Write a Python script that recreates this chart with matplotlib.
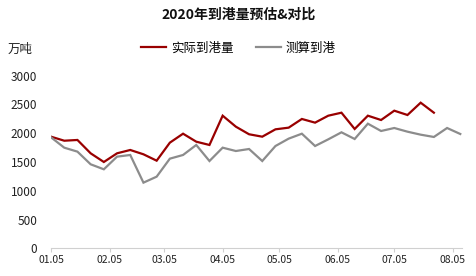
import matplotlib
matplotlib.use("Agg")
import matplotlib.pyplot as plt
import pandas as pd

plt.rcParams['font.family'] = ['Noto Sans CJK SC', 'DejaVu Sans']

dates = ['2020-01-05', '2020-01-12', '2020-01-19', '2020-01-26', '2020-02-02', '2020-02-09',
         '2020-02-16', '2020-02-23', '2020-03-01', '2020-03-08', '2020-03-15', '2020-03-22',
         '2020-03-29', '2020-04-05', '2020-04-12', '2020-04-19', '2020-04-26', '2020-05-03',
         '2020-05-10', '2020-05-17', '2020-05-24', '2020-05-31', '2020-06-07', '2020-06-14',
         '2020-06-21', '2020-06-28', '2020-07-05', '2020-07-12', '2020-07-19', '2020-07-26',
         '2020-08-02', '2020-08-09']
actual = [1940, 1870, 1883, 1651, 1500, 1651, 1709, 1634, 1523, 1836, 1992, 1853,
          1796, 2305, 2114, 1982, 1940, 2068, 2097, 2248, 2184, 2305, 2357, 2074,
          2305, 2230, 2392, 2317, 2531, 2357]
estimate = [1929, 1749, 1680, 1460, 1373, 1593, 1622, 1141, 1245, 1558, 1622, 1796,
            1517, 1749, 1691, 1726, 1517, 1778, 1906, 1992, 1778, 1894, 2016, 1900,
            2166, 2039, 2091, 2027, 1975, 1935, 2091, 1987]
tick_dates = ['2020-01-05', '2020-02-05', '2020-03-05', '2020-04-05', '2020-05-05',
              '2020-06-05', '2020-07-05', '2020-08-05']
tick_labels = ['01.05', '02.05', '03.05', '04.05', '05.05', '06.05', '07.05', '08.05']
yticks = [0, 500, 1000, 1500, 2000, 2500, 3000]

title = '2020年到港量预估&对比'
series_names = ['实际到港量', '测算到港']
unit = '万吨'

d = pd.to_datetime(dates)
fig = plt.figure(figsize=(4.77, 2.76), dpi=100)
ax = fig.add_axes([0.107, 0.1004, 0.8619, 0.6253])

ax.plot(d[:len(actual)], actual, color='#990000', lw=1.6, label=series_names[0], solid_joinstyle='miter')
ax.plot(d[:len(estimate)], estimate, color='#8c8c8c', lw=1.6, label=series_names[1], solid_joinstyle='miter')

ax.set_xlim(pd.Timestamp('2020-01-05'), pd.Timestamp('2020-08-10'))
ax.set_ylim(0, 3000)
ax.set_xticks(pd.to_datetime(tick_dates))
ax.set_xticklabels(tick_labels, fontsize=7.5, color='#222222')
ax.set_yticks(yticks)
ax.set_yticklabels([str(v) for v in yticks], fontsize=8.5, color='#222222')

for s in ['top', 'right', 'left']:
    ax.spines[s].set_visible(False)
ax.spines['bottom'].set_color('#d0d0d0')
ax.spines['bottom'].set_linewidth(0.8)
ax.tick_params(axis='x', direction='out', length=3, color='#d0d0d0', width=0.8, pad=2)
ax.tick_params(axis='y', length=0, pad=10)

fig.text(0.5, 0.948, title, ha='center', va='center', fontsize=10, fontweight='bold', color='#111111')
fig.text(0.015, 0.822, unit, ha='left', va='center', fontsize=9, color='#222222')

leg = fig.legend(loc='center', bbox_to_anchor=(0.5, 0.826), ncol=2, frameon=False,
                 fontsize=9, handlelength=2.0, handletextpad=0.4, columnspacing=1.8)

fig.savefig('out.png', dpi=100)
